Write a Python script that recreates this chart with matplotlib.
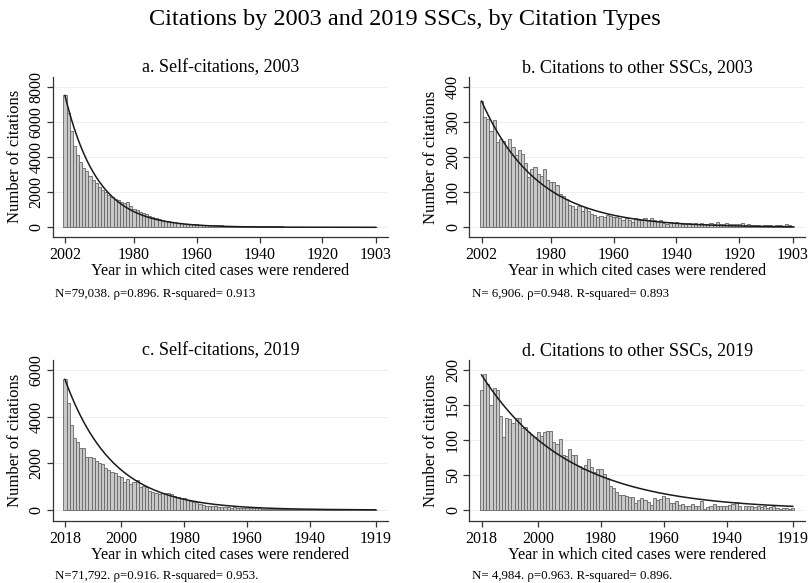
import numpy as np
import matplotlib.pyplot as plt

plt.rcParams['font.family'] = ['Liberation Serif', 'DejaVu Serif']

# Years of the cited cases (newest first)
years_2003 = list(range(2002, 1902, -1))
years_2019 = list(range(2018, 1918, -1))

# a. Self-citations, 2003 (2002 -> 1903)
self_2003 = [7500, 6500, 5500, 4600, 4100, 3700, 3400, 3200, 2900, 2700,
             2500, 2300, 2100, 2000, 1850, 1700, 1600, 1550, 1450, 1400,
             1450, 1200, 1050, 1000, 850, 800, 750, 650, 580, 520,
             450, 400, 360, 330, 300, 280, 260, 240, 210, 190,
             180, 170, 160, 150, 140, 140, 130, 150, 130, 120,
             110, 100, 100, 95, 90, 85, 85, 80, 75, 80,
             70, 75, 80, 70, 65, 60, 55, 60, 50, 55,
             45, 40, 40, 35, 35, 30, 30, 30, 25, 25,
             25, 20, 20, 20, 15, 15, 20, 15, 10, 15,
             10, 10, 15, 10, 10, 10, 15, 10, 5, 10]

# b. Citations to other SSCs, 2003
other_2003 = [360, 316, 310, 276, 307, 243, 252, 245, 225, 253,
              228, 205, 220, 210, 183, 143, 165, 173, 153, 145,
              165, 135, 130, 128, 122, 95, 90, 80, 63, 60,
              52, 60, 45, 55, 45, 38, 35, 30, 32, 28,
              35, 32, 28, 30, 25, 20, 25, 22, 15, 25,
              22, 20, 25, 22, 27, 22, 18, 20, 12, 10,
              15, 13, 15, 12, 8, 10, 12, 10, 12, 10,
              12, 10, 8, 12, 10, 15, 8, 10, 12, 8,
              10, 8, 10, 12, 6, 8, 5, 5, 6, 4,
              5, 6, 5, 4, 5, 6, 4, 10, 5, 4]

# c. Self-citations, 2019 (2018 -> 1919)
self_2019 = [5600, 4600, 3640, 3070, 2930, 2640, 2640, 2290, 2260, 2210,
             2100, 2030, 1960, 1810, 1710, 1640, 1570, 1470, 1430, 1210,
             1310, 1110, 1210, 1290, 1000, 1030, 1000, 810, 790, 710,
             690, 710, 710, 740, 690, 610, 570, 500, 500, 430,
             400, 360, 330, 260, 210, 190, 170, 150, 150, 140,
             120, 110, 120, 100, 110, 90, 90, 80, 80, 70,
             75, 70, 65, 60, 60, 55, 60, 50, 55, 50,
             45, 45, 40, 45, 40, 35, 40, 45, 35, 30,
             30, 35, 30, 25, 30, 25, 25, 20, 25, 20,
             20, 20, 15, 20, 15, 15, 20, 15, 15, 10]

# d. Citations to other SSCs, 2019
other_2019 = [171, 195, 180, 150, 175, 172, 135, 105, 131, 130,
              125, 132, 131, 117, 118, 111, 107, 105, 111, 106,
              112, 113, 113, 97, 94, 102, 79, 77, 87, 79,
              79, 63, 58, 64, 73, 62, 54, 58, 59, 51,
              45, 34, 31, 26, 21, 21, 20, 19, 19, 10,
              14, 17, 14, 12, 7, 17, 14, 16, 20, 17,
              10, 10, 13, 7, 9, 6, 6, 9, 5, 6,
              13, 1, 4, 6, 8, 5, 6, 5, 5, 7,
              9, 12, 5, 0, 6, 6, 5, 4, 5, 4,
              5, 3, 4, 5, 3, 2, 3, 3, 2, 3]

# exponential fit: (value in newest year, decay per year)
fit_self_2003 = (7500, 0.097)
fit_other_2003 = (360, 0.056)
fit_self_2019 = (5600, 0.066)
fit_other_2019 = (193, 0.0365)

titles = ['a. Self-citations, 2003', 'b. Citations to other SSCs, 2003',
          'c. Self-citations, 2019', 'd. Citations to other SSCs, 2019']
notes = ['N=79,038. \u03c1=0.896. R-squared= 0.913',
         'N= 6,906. \u03c1=0.948. R-squared= 0.893',
         'N=71,792. \u03c1=0.916. R-squared= 0.953.',
         'N= 4,984. \u03c1=0.963. R-squared= 0.896.']
yticks = [[0, 2000, 4000, 6000, 8000], [0, 100, 200, 300, 400],
          [0, 2000, 4000, 6000], [0, 50, 100, 150, 200]]
xticks_2003 = [2002, 1980, 1960, 1940, 1920, 1903]
xticks_2019 = [2018, 2000, 1980, 1960, 1940, 1919]

panels = [
    (years_2003, self_2003, fit_self_2003, xticks_2003, (-535, 8550)),
    (years_2003, other_2003, fit_other_2003, xticks_2003, (-27, 428)),
    (years_2019, self_2019, fit_self_2019, xticks_2019, (-459, 6430)),
    (years_2019, other_2019, fit_other_2019, xticks_2019, (-15.3, 214.3)),
]

W, H = 810, 583
fig = plt.figure(figsize=(W / 100, H / 100), dpi=100)

# axes boxes in pixels: left, top, right, bottom
boxes = [(52.7, 77, 388, 236.7), (469.3, 77.3, 805, 236.7),
         (52.7, 360, 388, 520.7), (469.3, 360, 805, 520.7)]
note_gap = [57.5, 57.5, 55.5, 55.5]

for i, (yrs, vals, fit, xt, ylim) in enumerate(panels):
    l, t, r, b = boxes[i]
    ax = fig.add_axes([l / W, 1 - b / H, (r - l) / W, (b - t) / H])
    ax.bar(yrs, vals, width=1.0, color='#c8c8c8', edgecolor='#666666',
           linewidth=0.6, zorder=2)
    xs = np.linspace(yrs[0], yrs[-1], 300)
    ax.plot(xs, fit[0] * np.exp(-fit[1] * (yrs[0] - xs)), color='#1a1a1a',
            lw=1.1, zorder=3)
    ax.set_xlim(yrs[0] + 3.9, yrs[-1] - 3.9)
    ax.set_ylim(*ylim)
    ax.set_xticks(xt)
    ax.set_yticks(yticks[i])
    for yv in yticks[i]:
        ax.axhline(yv, color='#eeeeee', lw=0.8, zorder=0)
    for s in ['top', 'right']:
        ax.spines[s].set_visible(False)
    for s in ['left', 'bottom']:
        ax.spines[s].set_color('#333333')
        ax.spines[s].set_linewidth(0.9)
    ax.tick_params(axis='both', colors='#333333', labelcolor='black',
                   labelsize=11.5, length=4, width=0.9)
    ax.tick_params(axis='y', labelrotation=90, pad=2)
    for lab in ax.get_yticklabels():
        lab.set_va('center')
    ax.set_ylabel('Number of citations', fontsize=12, labelpad=4)
    ax.set_xlabel('Year in which cited cases were rendered', fontsize=11.6,
                  labelpad=0)
    fig.text((l + r) / 2 / W, 1 - (t - 9.5) / H, titles[i], ha='center',
             va='center', fontsize=13)
    fig.text((l + 2.5) / W, 1 - (b + note_gap[i]) / H, notes[i], ha='left',
             va='center', fontsize=9.3)

fig.text(0.5, 1 - 20 / H, 'Citations by 2003 and 2019 SSCs, by Citation Types',
         ha='center', va='center', fontsize=17.5)

fig.savefig('out.png', dpi=100)
